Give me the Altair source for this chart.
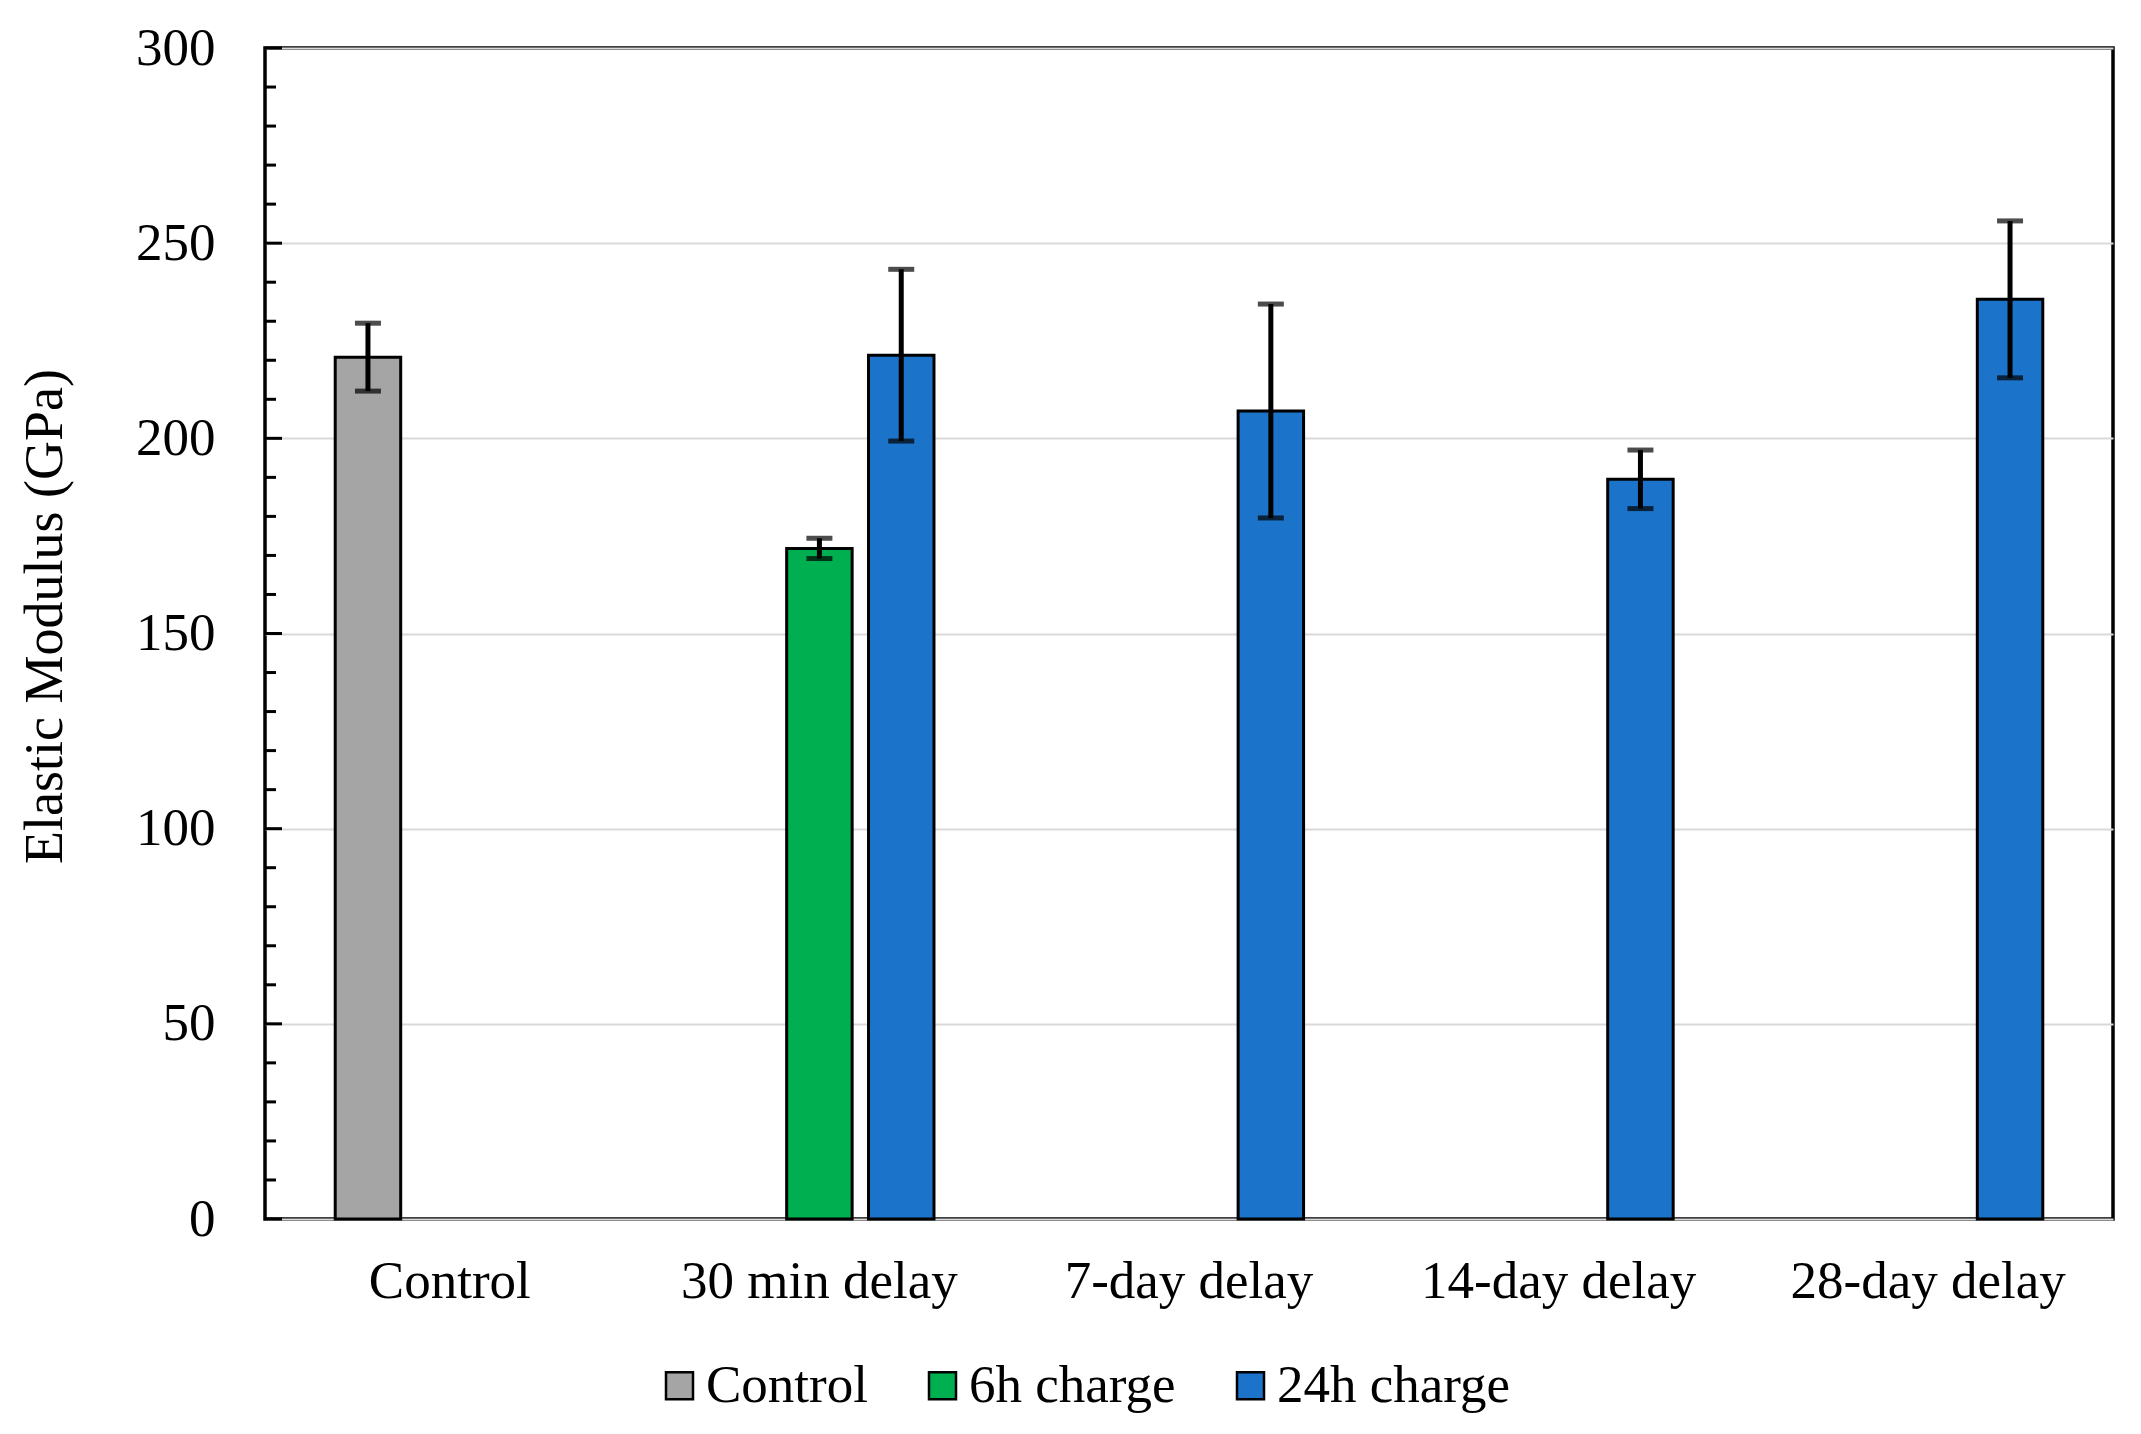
import altair as alt
import pandas as pd

categories = ["Control", "30 min delay", "7-day delay", "14-day delay", "28-day delay"]
series_names = ["Control", "6h charge", "24h charge"]
series_colors = ["#A5A5A5", "#00B050", "#1B74C9"]

bar_category = ["Control", "30 min delay", "30 min delay", "7-day delay", "14-day delay", "28-day delay"]
bar_series = ["Control", "6h charge", "24h charge", "24h charge", "24h charge", "24h charge"]
bar_value = [220.8, 171.8, 221.3, 207.0, 189.5, 235.6]
bar_error = [8.7, 2.6, 22.0, 27.4, 7.5, 20.1]

y_major = [0, 50, 100, 150, 200, 250, 300]
y_minor = [v for v in range(0, 301, 10) if v % 50 != 0]

FONT = "Liberation Serif"

df = pd.DataFrame({
    "category": bar_category,
    "series": bar_series,
    "value": bar_value,
    "err": bar_error,
})
df["lo"] = df["value"] - df["err"]
df["hi"] = df["value"] + df["err"]

x_enc = alt.X("category:N", sort=categories,
              scale=alt.Scale(domain=categories, paddingInner=0, paddingOuter=0),
              axis=alt.Axis(title=None, labelAngle=0, domain=False, ticks=False, tickSize=0,
                            labelPadding=36, labelFont=FONT, labelFontSize=53,
                            labelColor="black", grid=False, labelLimit=600))
xo_enc = alt.XOffset("series:N", sort=series_names,
                     scale=alt.Scale(domain=series_names, paddingInner=0.2, paddingOuter=0.858))
y_scale = alt.Scale(domain=[0, 300], nice=False, zero=True)

base = alt.Chart(df)

bars = base.mark_bar(stroke="black", strokeWidth=3).encode(
    x=x_enc,
    xOffset=xo_enc,
    y=alt.Y("value:Q", scale=y_scale,
            axis=alt.Axis(title="Elastic Modulus (GPa)", values=y_major, domain=False,
                          ticks=False, tickSize=0, labelPadding=50, labelFont=FONT,
                          labelFontSize=53, labelColor="black", grid=True,
                          gridColor="#D9D9D9", gridWidth=2, titleFont=FONT,
                          titleFontSize=54, titleFontWeight="normal", titleColor="black",
                          titleX=-220, titleY=568, titleAngle=-90,
                          titleBaseline="middle", titleAlign="center")),
    color=alt.Color("series:N", sort=series_names,
                    scale=alt.Scale(domain=series_names, range=series_colors),
                    legend=alt.Legend(title=None, orient="none", direction="horizontal",
                                      legendX=388, legendY=1311, symbolType="square",
                                      symbolSize=729, symbolStrokeColor="black",
                                      symbolStrokeWidth=2.5, labelFont=FONT,
                                      labelFontSize=53, labelColor="black",
                                      labelOffset=0, columnPadding=48, padding=0,
                                      labelLimit=400)),
)

err_rule = base.mark_rule(color="black", strokeWidth=5).encode(
    x=x_enc, xOffset=xo_enc, y=alt.Y("lo:Q", scale=y_scale), y2="hi:Q",
)
cap_hi = base.mark_tick(color="black", size=26, thickness=5).encode(
    x=x_enc, xOffset=xo_enc, y=alt.Y("hi:Q", scale=y_scale),
)
cap_lo = base.mark_tick(color="black", size=26, thickness=5).encode(
    x=x_enc, xOffset=xo_enc, y=alt.Y("lo:Q", scale=y_scale),
)

minor_ticks = alt.Chart(pd.DataFrame({"v": y_minor})).mark_rule(
    color="black", strokeWidth=3).encode(
    y=alt.Y("v:Q", scale=y_scale), x=alt.value(0), x2=alt.value(11),
)
major_ticks = alt.Chart(pd.DataFrame({"v": y_major})).mark_rule(
    color="black", strokeWidth=3).encode(
    y=alt.Y("v:Q", scale=y_scale), x=alt.value(0), x2=alt.value(17),
)

chart = alt.layer(bars, err_rule, cap_hi, cap_lo, minor_ticks, major_ticks).properties(
    width=1848, height=1171,
    padding={"left": 257, "top": 40, "right": 8, "bottom": 200},
    autosize=alt.AutoSizeParams(type="none"),
    background="white",
).configure_view(
    stroke="black", strokeWidth=3.5,
)

chart.save("out.html", embed_options={"renderer": "svg", "actions": False})
